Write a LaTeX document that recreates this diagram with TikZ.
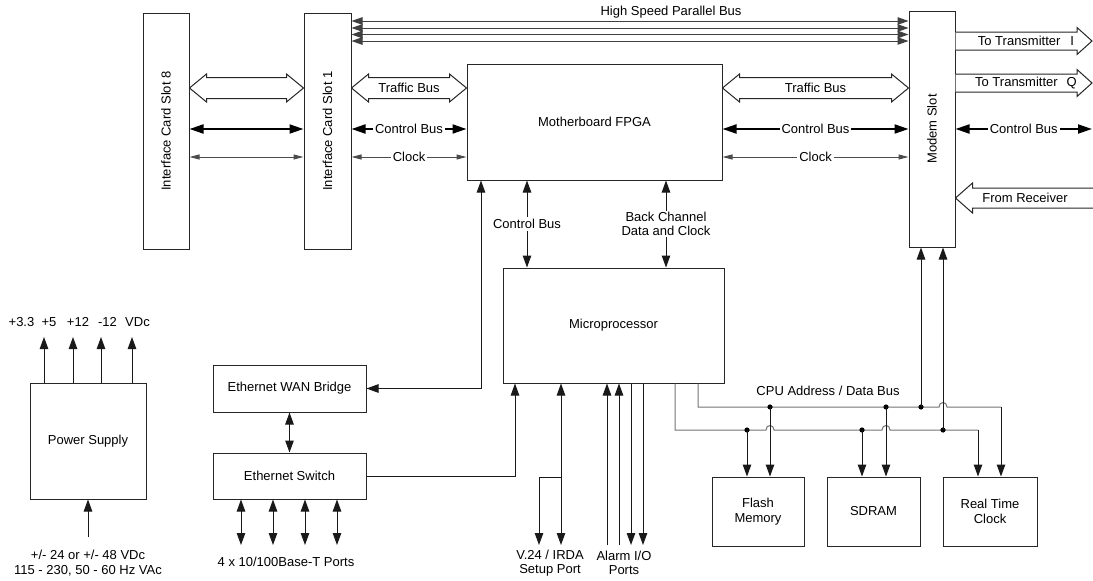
\documentclass[tikz,border=0pt]{standalone}
\usepackage{fontspec}
\setmainfont{Liberation Sans}
\usetikzlibrary{arrows.meta,calc}
\begin{document}
\begin{tikzpicture}[x=1pt,y=-1pt,
  font=\fontsize{13}{14.5}\selectfont,
  Tn/.tip={Triangle[length=12pt,width=8.5pt]},
  Tb/.tip={Triangle[length=14pt,width=9pt]},
  Tc/.tip={Triangle[length=10pt,width=5pt]},
  Th/.tip={Triangle[length=11pt,width=7.5pt]},
  box/.style={draw=black!85, line width=1pt, inner sep=0pt, align=center},
  ln/.style={line width=1pt, draw=black!90},
  oneway/.style={ln, -Tn},
  twoway/.style={ln, Tn-Tn},
  ctl/.style={line width=2pt, draw=black, Tb-Tb},
  clk/.style={line width=1pt, draw=black!70, Tc-Tc},
  hsb/.style={line width=1pt, draw=black!75, Th-Th},
  lbl/.style={fill=white, inner sep=2pt},
  blk/.style={draw=black!85, line width=1pt, fill=white, line join=miter},
  bus/.style={line width=1pt, draw=black!55},
  txt/.style={align=center, inner sep=0pt}]
\useasboundingbox (0,0) rectangle (1093,581);

% row positions of the horizontal buses
\coordinate (r1) at (0,21);
\coordinate (r2) at (0,28);
\coordinate (r3) at (0,34.5);
\coordinate (r4) at (0,41);
\coordinate (rT) at (0,88);
\coordinate (rC) at (0,129);
\coordinate (rK) at (0,157);
\coordinate (rI) at (0,41);
\coordinate (rQ) at (0,83);
\coordinate (rR) at (0,198);
\coordinate (edge) at (1092,0);

% blocks
\node[box, minimum width=46pt, minimum height=236pt,
  label={[rotate=90]center:Interface Card Slot 8}] (s8) at (166,131) {};
\node[box, minimum width=47pt, minimum height=236pt,
  label={[rotate=90]center:Interface Card Slot 1}] (s1) at (327.5,131) {};
\node[box, minimum width=255pt, minimum height=116pt] (fpga) at (594.5,122) {Motherboard FPGA};
\node[box, minimum width=46pt, minimum height=236pt,
  label={[rotate=90]center:Modem Slot}] (modem) at (932,129) {};
\node[box, minimum width=221pt, minimum height=115pt] (micro) at (613.5,325.5) {Microprocessor};
\node[box, minimum width=153pt, minimum height=47pt] (wan) at (289.5,388.5) {Ethernet WAN Bridge};
\node[box, minimum width=153pt, minimum height=46pt] (sw) at (289.5,476) {Ethernet Switch};
\node[box, minimum width=116pt, minimum height=116pt] (ps) at (88,441) {Power Supply};
\node[box, minimum width=92pt, minimum height=69pt] (flash) at (758,511.5) {Flash\\Memory};
\node[box, minimum width=93pt, minimum height=69pt] (sdram) at (873.5,511.5) {SDRAM};
\node[box, minimum width=94pt, minimum height=69pt] (rtc) at (990,511.5) {Real Time\\Clock};

% high speed parallel bus
\foreach \r in {r1,r2,r3,r4}
  \draw[hsb] (s1.east |- \r) -- (modem.west |- \r);
\node[txt] (hsblbl) at (671,12) {High Speed Parallel Bus};

% open double-headed traffic buses
\newcommand\dualbus[2]{%
  \draw[blk] (#1) -- ++(17,-14) -- ++(0,3.5) -- ($(#2)+(-17,-10.5)$) -- ++(0,-3.5)
    -- (#2) -- ++(-17,14) -- ++(0,-3.5) -- ($(#1)+(17,10.5)$) -- ++(0,3.5) -- cycle;}
\coordinate (ta1) at (s8.east |- rT);
\coordinate (tb1) at (s1.west |- rT);
\coordinate (ta2) at (s1.east |- rT);
\coordinate (tb2) at (fpga.west |- rT);
\coordinate (ta3) at (fpga.east |- rT);
\coordinate (tb3) at (modem.west |- rT);
\dualbus{ta1}{tb1}
\dualbus{ta2}{tb2}
\dualbus{ta3}{tb3}
\node[txt] (tbl2) at ($(ta2)!0.5!(tb2)$) {Traffic Bus};
\node[txt] (tbl3) at ($(ta3)!0.5!(tb3)$) {Traffic Bus};

% control bus
\draw[ctl] (s8.east |- rC) -- (s1.west |- rC);
\draw[ctl] (s1.east |- rC) -- (fpga.west |- rC) node[lbl, midway] (cb1) {Control Bus};
\draw[ctl] (fpga.east |- rC) -- (modem.west |- rC) node[lbl, midway] (cb2) {Control Bus};
\draw[ctl] (modem.east |- rC) -- (edge |- rC) node[lbl, midway] (cb3) {Control Bus};

% clock
\draw[clk] (s8.east |- rK) -- (s1.west |- rK);
\draw[clk] (s1.east |- rK) -- (fpga.west |- rK) node[lbl, midway, text=black] (ck1) {Clock};
\draw[clk] (fpga.east |- rK) -- (modem.west |- rK) node[lbl, midway, text=black] (ck2) {Clock};

% transmitter outputs and receiver input
\coordinate (ti0) at (modem.east |- rI);
\coordinate (ti1) at (edge |- rI);
\coordinate (tq0) at (modem.east |- rQ);
\coordinate (tq1) at (edge |- rQ);
\coordinate (fr0) at (modem.east |- rR);
\coordinate (fr1) at (edge |- rR);
\draw[blk] ($(ti0)+(0,-9)$) -- ($(ti1)+(-15,-9)$) -- ++(0,-4.5) -- (ti1)
  -- ++(-15,13.5) -- ++(0,-4.5) -- ($(ti0)+(0,9)$);
\draw[blk] ($(tq0)+(0,-9)$) -- ($(tq1)+(-15,-9)$) -- ++(0,-4.5) -- (tq1)
  -- ++(-15,13.5) -- ++(0,-4.5) -- ($(tq0)+(0,9)$);
\draw[blk] ($(fr1)+(2,-10)$) -- ($(fr0)+(17,-10)$) -- ++(0,-5) -- (fr0)
  -- ++(17,15) -- ++(0,-5) -- ($(fr1)+(2,10)$);
\node[txt] (til) at (1026,41) {To Transmitter\hspace{10pt}I};
\node[txt] (tql) at (1026,83) {To Transmitter\hspace{9pt}Q};
\node[txt] (frl) at (1025,198) {From Receiver};

% FPGA to microprocessor
\coordinate (xcb) at (527,0);
\coordinate (xbc) at (666,0);
\draw[twoway] (fpga.south -| xcb) -- (micro.north -| xcb) node[lbl, midway] (cbv) {Control Bus};
\draw[twoway] (fpga.south -| xbc) -- (micro.north -| xbc)
  node[lbl, midway, align=center, inner sep=1pt] (bcv) {Back Channel\\Data and Clock};

% Ethernet
\coordinate (xw) at (481,0);
\coordinate (xs) at (515,0);
\draw[twoway] (wan.east) -| (fpga.south -| xw);
\draw[twoway] (wan.south) -- (sw.north);
\draw[oneway] (sw.east) -| (micro.south -| xs);
\foreach \x in {241,273,305,337} {
  \coordinate (pt) at (\x,545);
  \draw[twoway] (sw.south -| pt) -- (pt);
}
\node[txt] (portlbl) at (286,562) {4 x 10/100Base-T Ports};

% setup port and alarm ports
\coordinate (v1) at (561,545);
\coordinate (v2) at (539,545);
\coordinate (vb) at (561,477);
\draw[twoway] (micro.south -| v1) -- (v1);
\draw[oneway] (vb) -| (v2);
\node[txt] (vlbl) at (550,563) {V.24 / IRDA\\Setup Port};
\foreach \x in {607,619} {
  \coordinate (al) at (\x,545);
  \draw[oneway] (al) -- (micro.south -| al);
}
\foreach \x in {631,643} {
  \coordinate (al) at (\x,545);
  \draw[oneway] (micro.south -| al) -- (al);
}
\node[txt] (alml) at (624,563) {Alarm I/O\\Ports};

% CPU address / data bus
\coordinate (xl) at (675,430);
\coordinate (xu) at (698,407);
\coordinate (rl) at (978,430);
\coordinate (ru) at (1001,407);
\draw[bus] (micro.south -| xl) -- (xl)
  -- (766,430) .. controls (766,424) and (774,424) .. (774,430)
  -- (882,430) .. controls (882,424) and (890,424) .. (890,430)
  -- (rl);
\draw[bus] (micro.south -| xu) -- (xu)
  -- (939,407) .. controls (939,401) and (947,401) .. (947,407)
  -- (ru);
\draw[oneway] (rl) -- (rtc.north -| rl);
\draw[oneway] (ru) -- (rtc.north -| ru);
\foreach \x/\y in {747/430, 770/407, 862/430, 886/407} {
  \coordinate (dp) at (\x,\y);
  \fill (dp) circle (2.6);
  \draw[oneway] (dp) -- (dp |- flash.north);
}
\foreach \x/\y in {921/407, 943/430} {
  \coordinate (dp) at (\x,\y);
  \fill (dp) circle (2.6);
  \draw[oneway] (dp) -- (dp |- modem.south);
}
\node[txt] (cpulbl) at (828,391) {CPU Address / Data Bus};

% power supply
\foreach \x in {44,73,101,132} {
  \coordinate (po) at (\x,337);
  \draw[oneway] (ps.north -| po) -- (po);
}
\node[txt] (v33) at (21.5,322) {+3.3};
\node[txt] (v5) at (49,322) {+5};
\node[txt] (v12) at (78,322) {+12};
\node[txt] (vm12) at (107.5,322) {-12};
\node[txt] (vdc) at (137.5,322) {VDc};
\coordinate (pin) at (88,537);
\draw[oneway] (pin) -- (ps.south);
\node[txt] (pinl) at (88,563) {+/- 24 or +/- 48 VDc\\115 - 230, 50 - 60 Hz VAc};
\end{tikzpicture}
\end{document}
